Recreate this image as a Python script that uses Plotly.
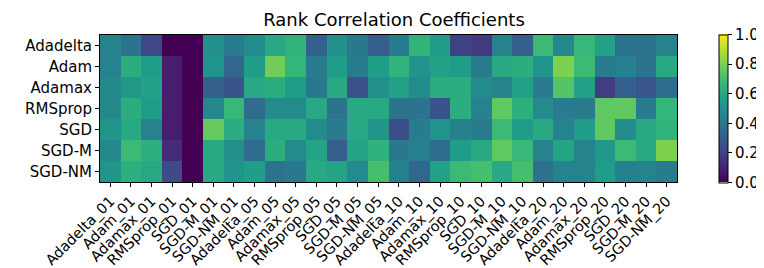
import plotly.graph_objects as go

optimizers = ["Adadelta", "Adam", "Adamax", "RMSprop", "SGD", "SGD-M", "SGD-NM"]
rates = ["01", "05", "10", "20"]
columns = [f"{o}_{r}" for r in rates for o in optimizers]

adadelta = [0.45, 0.38, 0.22, 0.00, 0.00, 0.50, 0.42,
            0.48, 0.60, 0.65, 0.30, 0.50, 0.40, 0.30,
            0.42, 0.65, 0.55, 0.20, 0.17, 0.45, 0.30,
            0.68, 0.47, 0.67, 0.57, 0.38, 0.38, 0.45]
adam = [0.45, 0.62, 0.55, 0.08, 0.00, 0.52, 0.33,
        0.55, 0.78, 0.66, 0.42, 0.55, 0.42, 0.56,
        0.65, 0.52, 0.57, 0.55, 0.42, 0.60, 0.62,
        0.52, 0.80, 0.68, 0.42, 0.44, 0.38, 0.60]
adamax = [0.47, 0.53, 0.57, 0.08, 0.00, 0.30, 0.26,
          0.60, 0.62, 0.55, 0.40, 0.60, 0.25, 0.50,
          0.57, 0.48, 0.62, 0.62, 0.48, 0.45, 0.57,
          0.42, 0.73, 0.57, 0.18, 0.30, 0.27, 0.35]
rmsprop = [0.47, 0.62, 0.55, 0.08, 0.00, 0.47, 0.67,
           0.35, 0.48, 0.48, 0.60, 0.38, 0.60, 0.60,
           0.38, 0.38, 0.26, 0.62, 0.45, 0.75, 0.63,
           0.48, 0.42, 0.42, 0.75, 0.75, 0.42, 0.66]
sgd = [0.52, 0.60, 0.45, 0.08, 0.00, 0.76, 0.62,
       0.45, 0.60, 0.60, 0.48, 0.42, 0.60, 0.52,
       0.24, 0.42, 0.52, 0.44, 0.42, 0.68, 0.55,
       0.60, 0.45, 0.55, 0.75, 0.48, 0.60, 0.65]
sgd_m = [0.47, 0.68, 0.63, 0.12, 0.00, 0.60, 0.50,
         0.35, 0.62, 0.48, 0.58, 0.30, 0.58, 0.64,
         0.40, 0.43, 0.35, 0.55, 0.60, 0.75, 0.67,
         0.45, 0.58, 0.45, 0.53, 0.68, 0.60, 0.80]
sgd_nm = [0.52, 0.63, 0.60, 0.23, 0.00, 0.60, 0.52,
          0.56, 0.38, 0.40, 0.60, 0.58, 0.48, 0.70,
          0.44, 0.33, 0.57, 0.68, 0.70, 0.60, 0.70,
          0.37, 0.45, 0.45, 0.55, 0.44, 0.45, 0.42]

z = [adadelta, adam, adamax, rmsprop, sgd, sgd_m, sgd_nm]

cb_ticks = [0.0, 0.2, 0.4, 0.6, 0.8, 1.0]

font = dict(family="DejaVu Sans", size=15, color="black")
xfont = dict(family="DejaVu Sans", size=14.5, color="black")

fig = go.Figure(go.Heatmap(
    z=z, x=columns, y=optimizers,
    colorscale="Viridis", zmin=0, zmax=1,
    xgap=0, ygap=0,
    colorbar=dict(
        x=1.073, xanchor="left", xpad=0, ypad=0,
        y=0.5, yanchor="middle",
        lenmode="pixels", len=148,
        thickness=9,
        outlinewidth=1, outlinecolor="black",
        tickvals=cb_ticks, ticktext=[f"{v:.1f}" for v in cb_ticks],
        ticks="outside", ticklen=4, tickcolor="black",
        tickfont=font,
    ),
))

fig.update_layout(
    width=764, height=268, autosize=False,
    margin=dict(l=92, r=85, t=27, b=94),
    paper_bgcolor="white", plot_bgcolor="white",
    font=font,
    title=dict(text="Rank Correlation Coefficients", x=386 / 764, xanchor="center",
               y=0.955, yanchor="middle", font=dict(family="DejaVu Sans", size=18, color="black")),
)
fig.update_xaxes(
    tickangle=-45, ticks="outside", ticklen=4, tickcolor="black",
    showline=True, mirror=True, linecolor="black", linewidth=1,
    showgrid=False, zeroline=False, tickfont=xfont, automargin=False,
)
fig.update_yaxes(
    autorange="reversed", ticks="outside", ticklen=4, tickcolor="black",
    showline=True, mirror=True, linecolor="black", linewidth=1,
    showgrid=False, zeroline=False, tickfont=font, automargin=False,
)

fig.write_html("out.html")
